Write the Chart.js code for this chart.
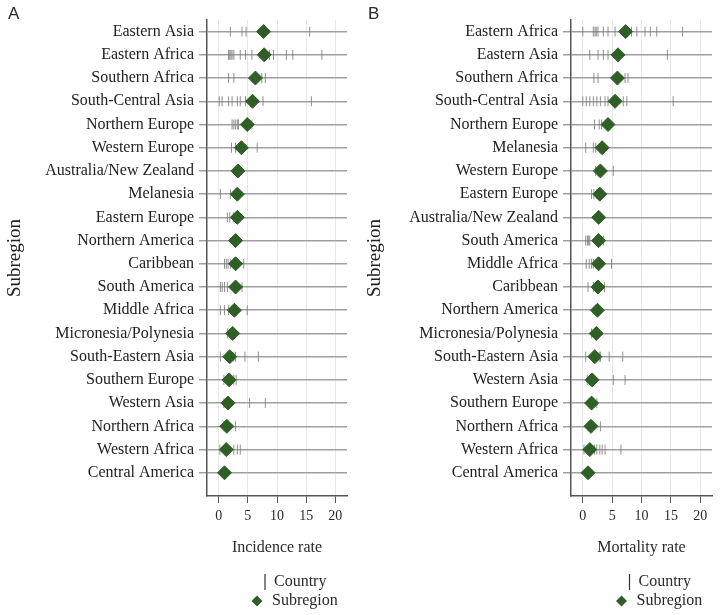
<!DOCTYPE html>
<html>
<head>
<meta charset="utf-8">
<script src="https://cdn.jsdelivr.net/npm/chart.js@4.4.1/dist/chart.umd.min.js"></script>
<style>
  body { margin: 0; background: #fff; }
  canvas { position: absolute; top: 0; }
</style>
</head>
<body>
<canvas id="panelA" width="360" height="615" style="left:0"></canvas>
<canvas id="panelB" width="360" height="615" style="left:360px"></canvas>
<script>
const xTicks = [0, 5, 10, 15, 20];

// Panel A - incidence
const regionsA = ['Eastern Asia', 'Eastern Africa', 'Southern Africa', 'South-Central Asia', 'Northern Europe',
  'Western Europe', 'Australia/New Zealand', 'Melanesia', 'Eastern Europe', 'Northern America', 'Caribbean',
  'South America', 'Middle Africa', 'Micronesia/Polynesia', 'South-Eastern Asia', 'Southern Europe',
  'Western Asia', 'Northern Africa', 'Western Africa', 'Central America'];
const incidenceSubregion = [7.7, 7.8, 6.3, 5.8, 4.9, 3.9, 3.3, 3.2, 3.2, 2.9, 2.9, 2.9, 2.7, 2.4, 1.9, 1.8, 1.6, 1.4, 1.3, 1.0];
const incidenceCountry = [
  [2.0, 4.0, 4.7, 15.6],
  [1.7, 1.9, 2.1, 2.3, 2.6, 3.7, 4.6, 5.7, 8.7, 9.4, 11.6, 12.7, 17.7],
  [1.7, 2.6, 7.4, 8.0],
  [0.1, 0.6, 1.7, 2.3, 3.2, 3.7, 4.6, 7.6, 15.9],
  [2.3, 2.6, 2.9, 3.2, 3.4, 5.7],
  [2.2, 2.9, 6.6],
  [3.2, 3.5],
  [0.3, 2.0],
  [1.5, 1.9, 2.5],
  [2.7, 3.0],
  [1.0, 1.3, 1.6, 2.0, 4.3],
  [0.3, 0.6, 1.0, 1.5, 4.0],
  [0.3, 1.0, 1.7, 4.9],
  [1.5, 2.6],
  [0.3, 2.6, 2.9, 4.5, 6.8],
  [0.9, 2.6, 3.0],
  [0.9, 5.3, 8.0],
  [0.9, 2.9],
  [0.2, 2.6, 3.2, 3.7],
  [0.9]
];

// Panel B - mortality
const regionsB = ['Eastern Africa', 'Eastern Asia', 'Southern Africa', 'South-Central Asia', 'Northern Europe',
  'Melanesia', 'Western Europe', 'Eastern Europe', 'Australia/New Zealand', 'South America', 'Middle Africa',
  'Caribbean', 'Northern America', 'Micronesia/Polynesia', 'South-Eastern Asia', 'Western Asia',
  'Southern Europe', 'Northern Africa', 'Western Africa', 'Central America'];
const mortalitySubregion = [7.3, 6.0, 5.9, 5.5, 4.3, 3.3, 3.0, 2.9, 2.7, 2.7, 2.7, 2.6, 2.5, 2.3, 2.05, 1.6, 1.5, 1.4, 1.2, 0.9];
const mortalityCountry = [
  [0.0, 1.8, 2.1, 2.3, 2.6, 3.5, 4.3, 5.5, 8.3, 9.2, 10.6, 11.5, 12.6, 17.0],
  [1.2, 2.6, 3.5, 4.3, 14.4],
  [1.9, 2.6, 7.2, 7.7],
  [0.0, 0.6, 1.2, 1.8, 2.4, 3.0, 3.8, 4.3, 6.9, 7.5, 15.4],
  [2.0, 2.8, 3.2, 4.6],
  [0.5, 1.8, 2.2],
  [2.2, 2.8, 5.2],
  [1.5, 1.9, 2.4],
  [2.5, 2.9],
  [0.5, 0.8, 1.0, 1.2, 3.5],
  [0.6, 1.1, 1.5, 1.8, 4.9],
  [0.9, 1.8, 3.7],
  [2.4, 2.7],
  [1.5, 2.5],
  [0.5, 2.8, 3.0, 4.5, 6.8],
  [0.75, 5.2, 7.2],
  [1.1, 2.4],
  [0.9, 3.0],
  [0.2, 2.0, 2.4, 2.9, 3.3, 3.8, 6.5],
  [0.8]
];

const SERIF = '"Liberation Serif", "DejaVu Serif", serif';
const GREEN = '#2f5f27';
const INK = '#2a2a2a';

const legendPlugin = {
  id: 'sideLegend',
  afterDraw(chart, args, opts) {
    const {ctx, chartArea} = chart;
    const cx = (chartArea.left + chartArea.right) / 2;
    ctx.save();
    ctx.fillStyle = INK;
    ctx.textBaseline = 'middle';
    ctx.font = '16px ' + SERIF;
    // country marker
    ctx.strokeStyle = '#333';
    ctx.lineWidth = 1.2;
    ctx.beginPath();
    ctx.moveTo(cx - 12, 574);
    ctx.lineTo(cx - 12, 590);
    ctx.stroke();
    ctx.fillText('Country', cx - 3, 582);
    // subregion marker
    const dx = cx - 20, dy = 601, r = 5.5;
    ctx.fillStyle = GREEN;
    ctx.beginPath();
    ctx.moveTo(dx, dy - r);
    ctx.lineTo(dx + r, dy);
    ctx.lineTo(dx, dy + r);
    ctx.lineTo(dx - r, dy);
    ctx.closePath();
    ctx.fill();
    ctx.fillStyle = INK;
    ctx.fillText('Subregion', cx - 5, 601);
    // panel letter
    ctx.font = '17px "Liberation Sans", Arial, sans-serif';
    ctx.textBaseline = 'top';
    ctx.fillText(opts.letter, 8, 6);
    ctx.restore();
  }
};

function makePanel(id, letter, regions, subVals, countryVals, xTitle, yAxisWidth, padRight) {
  const subPoints = subVals.map((v, i) => ({x: v, y: i}));
  const countryPoints = countryVals.flatMap((vals, i) => vals.map(v => ({x: v, y: i})));
  return new Chart(document.getElementById(id), {
    type: 'scatter',
    data: {
      datasets: [
        {
          label: 'Subregion',
          data: subPoints,
          pointStyle: 'rectRot',
          pointRadius: 7,
          backgroundColor: GREEN,
          borderColor: GREEN,
          borderWidth: 1
        },
        {
          label: 'Country',
          data: countryPoints,
          pointStyle: 'line',
          rotation: 90,
          pointRadius: 5,
          borderColor: 'rgba(125,125,125,0.85)',
          borderWidth: 1
        }
      ]
    },
    options: {
      responsive: false,
      animation: false,
      layout: {padding: {left: 0, right: padRight, top: 20, bottom: 58}},
      plugins: {
        legend: {display: false},
        tooltip: {enabled: false},
        sideLegend: {letter: letter}
      },
      scales: {
        x: {
          type: 'linear',
          min: -2,
          max: 22,
          afterBuildTicks: s => { s.ticks = xTicks.map(v => ({value: v})); },
          afterFit: s => { s.height = 61; },
          grid: {color: '#e8e8e8', lineWidth: 1, tickColor: '#555', tickLength: 7},
          border: {color: '#555', width: 1.5},
          ticks: {font: {family: SERIF, size: 14}, color: INK, padding: 5, maxRotation: 0},
          title: {display: true, text: xTitle, font: {family: SERIF, size: 16}, color: INK, padding: 0}
        },
        y: {
          type: 'linear',
          reverse: true,
          min: -0.5,
          max: 20,
          afterBuildTicks: s => { s.ticks = regions.map((r, i) => ({value: i})); },
          afterFit: s => { s.width = yAxisWidth; },
          grid: {color: '#a0a0a0', lineWidth: 1.5, tickColor: '#a0a0a0', tickLength: 8},
          border: {color: '#555', width: 1.5},
          ticks: {
            callback: v => regions[v],
            autoSkip: false,
            font: {family: SERIF, size: 16},
            color: '#222',
            padding: 5
          },
          title: {display: true, text: 'Subregion', font: {family: SERIF, size: 19}, color: '#222', padding: {top: 4, bottom: 0}}
        }
      }
    },
    plugins: [legendPlugin]
  });
}

makePanel('panelA', 'A', regionsA, incidenceSubregion, incidenceCountry, 'Incidence rate', 207, 13);
makePanel('panelB', 'B', regionsB, mortalitySubregion, mortalityCountry, 'Mortality rate', 211, 7);
</script>
</body>
</html>
